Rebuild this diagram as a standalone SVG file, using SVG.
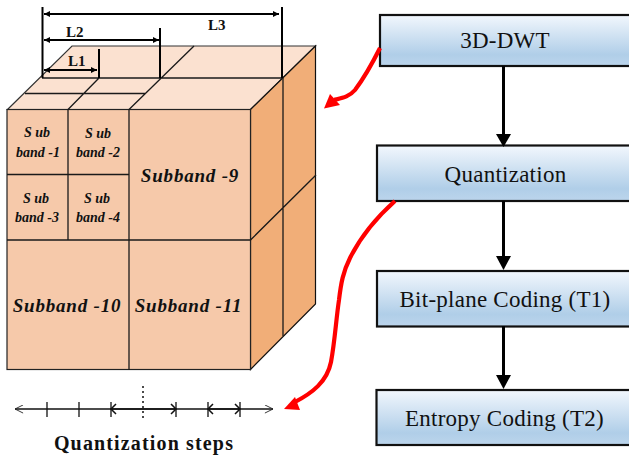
<svg xmlns="http://www.w3.org/2000/svg" width="629" height="458" viewBox="0 0 629 458">
<style>
.c{stroke:#1a1a1a;stroke-width:1.3;fill:none}
.f{fill:#f6c9aa;stroke:#222;stroke-width:1.2}
.t{fill:#fbe1d0;stroke:#333;stroke-width:1.2}
.s{fill:#f1ae78;stroke:#111;stroke-width:1.2}
.d{stroke:#000;stroke-width:2;fill:none}
.ln{stroke:#111;stroke-width:1.3;fill:none}
.lb{font-family:"Liberation Serif",serif;font-weight:bold;font-size:15px;fill:#111}
.sb{font-family:"Liberation Serif",serif;font-weight:bold;font-style:italic;font-size:14px;fill:#111;text-anchor:middle}
.bg{font-family:"Liberation Serif",serif;font-weight:bold;font-style:italic;font-size:19px;fill:#111;text-anchor:middle;letter-spacing:.8px}
.bx{fill:url(#g);stroke:#111;stroke-width:2.2}
.bt{font-family:"Liberation Serif",serif;font-size:23px;fill:#111;text-anchor:middle;letter-spacing:.25px}
.fl{stroke:#000;stroke-width:3;fill:none}
.r{stroke:#f00;stroke-width:4.2;fill:none}
</style>
<defs>
<linearGradient id="g" x1="0" y1="0" x2="0" y2="1"><stop offset="0" stop-color="#f2f7fd"/><stop offset="0.78" stop-color="#b0cee8"/><stop offset="1" stop-color="#bcd5ec"/></linearGradient>
<marker id="da" viewBox="0 0 8 8" refX="8" refY="4" markerWidth="6" markerHeight="6" orient="auto-start-reverse" markerUnits="userSpaceOnUse"><path d="M0 0L8 4L0 8Z" fill="#000"/></marker>
<marker id="oa" viewBox="0 0 10 10" refX="10" refY="5" markerWidth="9" markerHeight="9" orient="auto-start-reverse" markerUnits="userSpaceOnUse"><path d="M1 0.5L10 5L1 9.5" fill="none" stroke="#222" stroke-width="1"/></marker>
</defs>
<g id="cube">
<path class="t" d="M7.500 109.500L72 46H315.500L250.500 109.500Z"/>
<path class="s" d="M250.500 109.500L315.500 46V304L250.500 369.500Z"/>
<rect class="f" x="7" y="109.500" width="243.500" height="260"/>
<path class="c" d="M68 109.500V240M129 109.500V369.500M7 174.500H129M7 240H250.500"/>
<path class="c" d="M68 109.500L99 78M129 109.500L194 46M42 78H283M25 93.500H145M250.500 240L316 175M283 78V336"/>
</g>
<g id="dimensions">
<path class="d" d="M42.500 7V78M282 7V78M160 28V78M99 49V78"/>
<path class="d" marker-start="url(#da)" marker-end="url(#da)" d="M44 14H279"/>
<path class="d" marker-start="url(#da)" marker-end="url(#da)" d="M44 40H159"/>
<path class="d" marker-start="url(#da)" marker-end="url(#da)" d="M44 70H97"/>
<text class="lb" x="66" y="37">L2</text>
<text class="lb" x="208" y="30">L3</text>
<text class="lb" x="68" y="66">L1</text>
</g>
<g id="subband-1"><text class="sb" x="37" y="137">S ub</text><text class="sb" x="38" y="157">band -1</text></g>
<g id="subband-2"><text class="sb" x="98" y="138">S ub</text><text class="sb" x="98" y="157">band -2</text></g>
<g id="subband-3"><text class="sb" x="36" y="203">S ub</text><text class="sb" x="37" y="222">band -3</text></g>
<g id="subband-4"><text class="sb" x="97" y="203">S ub</text><text class="sb" x="98" y="222">band -4</text></g>
<g id="subband-9"><text class="bg" x="190" y="182">Subband -9</text></g>
<g id="subband-10"><text class="bg" x="67" y="312">Subband -10</text></g>
<g id="subband-11"><text class="bg" x="188.500" y="312">Subband -11</text></g>
<g id="box-dwt"><rect class="bx" x="380" y="15" width="260" height="51"/><text class="bt" x="505" y="48">3D-DWT</text></g>
<g id="box-quant"><rect class="bx" x="377" y="145.500" width="260" height="55.500"/><text class="bt" x="505.500" y="182">Quantization</text></g>
<g id="box-t1"><rect class="bx" x="377" y="271" width="260" height="55.500"/><text class="bt" x="505" y="307">Bit-plane Coding (T1)</text></g>
<g id="box-t2"><rect class="bx" x="376.500" y="390" width="260" height="55"/><text class="bt" x="504.500" y="426">Entropy Coding (T2)</text></g>
<g id="connectors">
<path class="fl" d="M503.500 66V136"/><path d="M496 134H511L503.500 147Z"/>
<path class="fl" d="M503.500 201V260"/><path d="M496 256H511L503.500 270Z"/>
<path class="fl" d="M503.500 326V378"/><path d="M496 375H511L503.500 389Z"/>
<path class="r" d="M380 48C373 62 364 78 355 90C349 97 342 98 334 100"/>
<path d="M324 108.500L330 94L340 105Z" fill="#f00"/>
<path class="r" d="M395 201C377 217 360 238 350 258C343 272 341 283 339 300C336 320 335 340 331 362C327 382 312 393 295 402"/>
<path d="M284 409L295 397L300 410Z" fill="#f00"/>
</g>
<g id="steps">
<path class="ln" marker-start="url(#oa)" marker-end="url(#oa)" d="M15 409H273"/>
<path class="ln" d="M47 402V417M79 402V417M111 402V417M176 402V417M208 402V417M240 402V417"/>
<path stroke="#111" stroke-width="1.5" fill="none" d="M111 409H176M208 409H240M116 404L111 409L116 414M171 404L176 409L171 414M213 404L208 409L213 414M235 404L240 409L235 414"/>
<path stroke="#111" stroke-width="1.5" stroke-dasharray="2 3" d="M143 386V418"/>
<text x="144" y="450" font-family="Liberation Serif,serif" font-weight="bold" font-size="20" letter-spacing="1.15" text-anchor="middle" fill="#111">Quantization steps</text>
</g>
</svg>
